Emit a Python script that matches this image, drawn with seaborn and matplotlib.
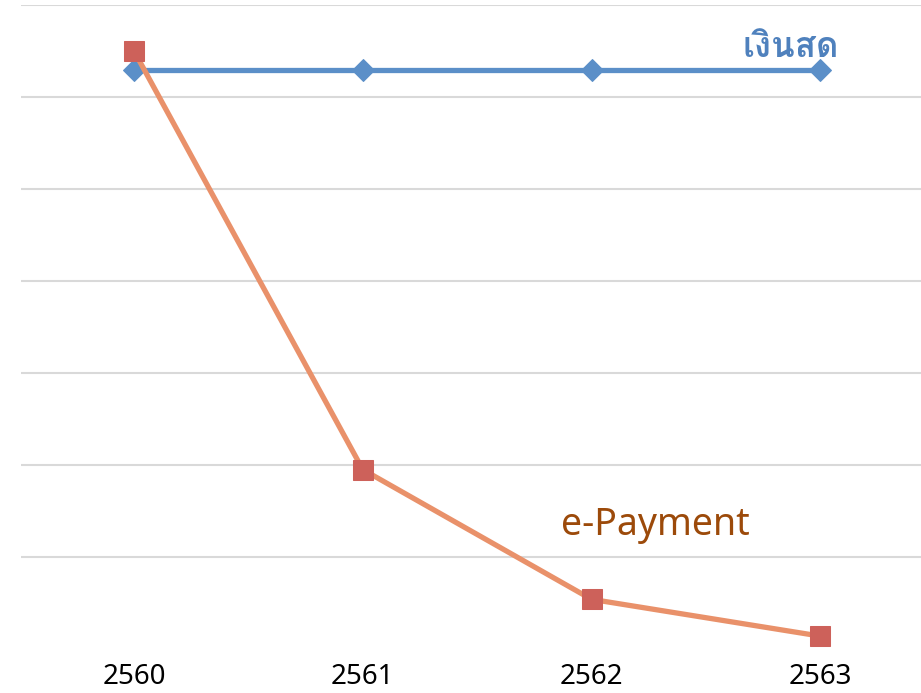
import matplotlib
matplotlib.use("Agg")
import matplotlib.pyplot as plt
import pandas as pd
import seaborn as sns
from matplotlib import font_manager
from matplotlib.ft2font import FT2Font

years = ["2560", "2561", "2562", "2563"]
cash = [62.9, 62.9, 62.9, 62.9]
epayment = [65.0, 19.5, 5.4, 1.4]


def thai_font():
    # find an installed family that can draw Thai
    for f in font_manager.fontManager.ttflist:
        try:
            if ord("เ") in FT2Font(f.fname).get_charmap():
                return f.name
        except Exception:
            pass
    return "DejaVu Sans"


sns.set_theme(style="white")
th = thai_font()
plt.rcParams["font.family"] = ["Noto Sans", th, "DejaVu Sans"]

df = pd.DataFrame({"year": years * 2,
                   "value": cash + epayment,
                   "series": ["cash"] * 4 + ["epay"] * 4})

fig = plt.figure(figsize=(9.21, 6.93), dpi=100)
ax = fig.add_axes([21 / 921, 44 / 693, 1 - 21 / 921, 644 / 693])

sns.lineplot(data=df[df.series == "cash"], x="year", y="value", ax=ax,
             color="#5B8FC8", linewidth=3.8, marker="D", markersize=11,
             markerfacecolor="#5B8FC8", markeredgecolor="#5B8FC8")
sns.lineplot(data=df[df.series == "epay"], x="year", y="value", ax=ax,
             color="#E9916A", linewidth=3.8, marker="s", markersize=14,
             markerfacecolor="#CD615A", markeredgecolor="#CD615A")

ax.set_xlim(-0.494, 3.44)
ax.set_ylim(0, 70)
# no gridline on the baseline
ax.set_yticks(range(10, 71, 10))
ax.set_yticklabels([])
ax.yaxis.grid(True, color="#D9D9D9", linewidth=1.5)
ax.set_axisbelow(True)
for s in ax.spines.values():
    s.set_visible(False)
ax.tick_params(axis="x", length=0, labelsize=20, pad=10, labelcolor="#000000")
ax.tick_params(axis="y", length=0)
ax.set(xlabel="", ylabel="")

ax.text(2.87, 65.3, "เงินสด", color="#4F81BD", fontsize=25, fontweight="bold",
        ha="center", va="center", family=[th, "DejaVu Sans"])
ax.text(2.28, 13.5, "e-Payment", color="#9C4A0A", fontsize=27,
        ha="center", va="center")

fig.savefig("out.png", dpi=100)
